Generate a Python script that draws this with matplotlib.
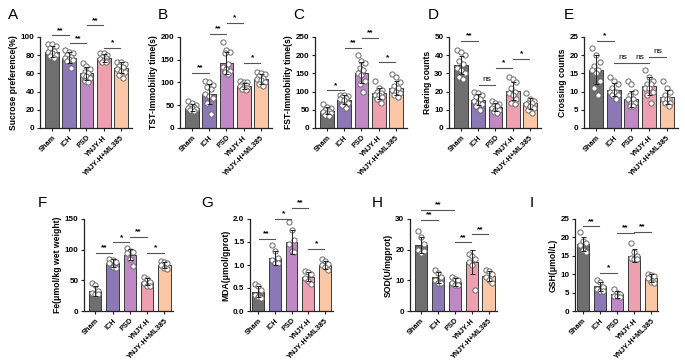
import matplotlib
matplotlib.use("Agg")
import matplotlib.pyplot as plt
import numpy as np

plt.rcParams['font.family'] = ['Liberation Sans', 'DejaVu Sans']

groups = ["Sham", "ICH", "PSD", "YNJY-H", "YNJY-H+ML385"]
colors = ["#6f6f6f", "#8c78b4", "#c089c6", "#ee9fb0", "#fbc7a6"]

# ---- Panel A: Sucrose preference
A_means = [84, 77, 60, 77, 66]
A_sd = [6, 6, 7, 4, 6]
A_pts = [[92, 92, 90, 88, 85, 83, 82, 80, 79, 77],
         [86, 84, 82, 80, 78, 77, 76, 75, 74, 66],
         [71, 68, 65, 62, 60, 58, 57, 55, 52, 50],
         [82, 82, 80, 78, 77, 76, 75, 74, 73, 72],
         [72, 72, 70, 68, 67, 65, 63, 62, 58, 55]]
A_sig = [(0, 1, 102, "**"), (1, 2, 93, "**"), (2, 3, 113, "**"), (3, 4, 88, "*")]

# ---- Panel B: TST immobility
B_means = [45, 75, 143, 92, 107]
B_sd = [7, 22, 24, 7, 11]
B_pts = [[60, 55, 50, 48, 46, 45, 43, 42, 40, 38],
         [104, 100, 95, 90, 85, 75, 70, 65, 55, 30],
         [188, 172, 168, 165, 140, 135, 130, 125, 122, 118],
         [104, 102, 100, 97, 94, 92, 90, 88, 86, 84],
         [122, 120, 118, 115, 110, 108, 105, 100, 96, 92]]
B_sig = [(0, 1, 121, "**"), (1, 2, 207, "**"), (2, 3, 231, "*"), (3, 4, 143, "*")]

# ---- Panel C: FST immobility
C_means = [48, 78, 152, 95, 110]
C_sd = [9, 12, 28, 16, 19]
C_pts = [[65, 58, 55, 50, 48, 45, 42, 40, 36, 33],
         [92, 90, 88, 85, 82, 80, 76, 70, 62, 55],
         [200, 185, 178, 165, 160, 150, 145, 130, 120, 100],
         [130, 110, 105, 100, 95, 92, 90, 85, 80, 68],
         [148, 140, 125, 115, 110, 105, 100, 95, 90, 85]]
C_sig = [(0, 1, 104, "*"), (1, 2, 220, "**"), (2, 3, 247, "**"), (3, 4, 181, "*")]

# ---- Panel D: Rearing counts
D_means = [34.5, 15.5, 11.5, 20.5, 13.5]
D_sd = [5, 3, 2.3, 5, 3]
D_pts = [[43, 42, 40, 37, 35, 33, 32, 30, 28, 27],
         [20, 19, 18, 17, 16, 15, 14, 13, 12, 10],
         [15, 14, 13, 12, 12, 11, 10, 10, 9, 8],
         [28, 27, 25, 22, 20, 19, 18, 16, 14, 13],
         [19, 16, 15, 14, 14, 13, 12, 11, 10, 8]]
D_sig = [(0, 1, 48, "**"), (1, 2, 23.6, "ns"), (2, 3, 33, "*"), (3, 4, 38, "*")]

# ---- Panel E: Crossing counts
E_means = [16, 10.5, 8, 11.5, 8.5]
E_sd = [4, 1.8, 2.3, 2.5, 2]
E_pts = [[22, 20, 18, 17, 16, 16, 15, 13, 11, 9],
         [14, 13, 12, 11, 10, 10, 10, 9, 9, 8],
         [13, 12, 10, 9, 8, 8, 7, 7, 6, 6],
         [16, 14, 13, 12, 12, 11, 11, 10, 9, 7],
         [13, 11, 10, 9, 8, 8, 8, 7, 7, 6]]
E_sig = [(0, 1, 24, "*"), (1, 2, 17.9, "ns"), (2, 3, 17.9, "ns"), (3, 4, 19.5, "ns")]

# ---- Panel F: Fe
F_means = [33, 78, 92, 48, 75]
F_sd = [8, 6, 9, 6, 5]
F_pts = [[46, 42, 32, 30, 28, 27],
         [85, 83, 80, 78, 72, 70],
         [102, 98, 97, 95, 85, 73],
         [56, 52, 48, 45, 40, 40],
         [82, 80, 78, 75, 70, 68]]
F_sig = [(0, 1, 94.6, "**"), (1, 2, 112, "*"), (2, 3, 121, "**"), (3, 4, 94.6, "*")]

# ---- Panel G: MDA
G_means = [0.42, 1.15, 1.5, 0.75, 1.0]
G_sd = [0.12, 0.15, 0.25, 0.1, 0.08]
G_pts = [[0.58, 0.55, 0.45, 0.35, 0.30, 0.28],
         [1.43, 1.30, 1.15, 1.10, 1.05, 1.05],
         [1.93, 1.75, 1.55, 1.45, 1.30, 1.28],
         [0.88, 0.85, 0.80, 0.72, 0.65, 0.58],
         [1.12, 1.08, 1.02, 1.00, 0.95, 0.90]]
G_sig = [(0, 1, 1.57, "**"), (1, 2, 2.0, "*"), (2, 3, 2.24, "**"), (3, 4, 1.35, "*")]

# ---- Panel H: SOD
H_means = [21.5, 11, 9.5, 16, 11.3]
H_sd = [2.5, 1.8, 1.2, 4, 1.6]
H_pts = [[26, 24, 22, 20, 19, 19.5],
         [13.5, 12.5, 11, 10, 9, 9],
         [11, 10.5, 10, 9, 8.5, 8.5],
         [18.5, 18, 17, 16, 15, 7],
         [13.5, 13, 12, 11, 10, 9]]
H_sig = [(0, 1, 29.7, "**"), (0, 2, 33, "**"), (2, 3, 22.4, "**"), (3, 4, 25, "**")]

# ---- Panel I: GSH
I_means = [18.2, 6.7, 4.5, 15, 9]
I_sd = [1.9, 1.3, 0.9, 1.8, 1.0]
I_pts = [[21.5, 19, 18.5, 18, 16.5, 16],
         [8.5, 8, 6.5, 6, 5.5, 5.5],
         [6, 5, 4.5, 4, 4, 3.8],
         [18.5, 16, 15, 14.5, 14, 14],
         [10, 9.8, 9.5, 9, 8, 7.5]]
I_sig = [(0, 1, 23, "**"), (1, 2, 10.3, "*"), (2, 3, 21.2, "**"), (3, 4, 21.5, "**")]

W, H = 685, 362
fig = plt.figure(figsize=(W / 100, H / 100), dpi=100)

panels = [
    ("A", A_means, A_sd, A_pts, A_sig, "Sucrose preference(%)", np.arange(0, 101, 20), None, (40, 132, 37, 128), (-0.7, 4.65), 0.8, (8, 15)),
    ("B", B_means, B_sd, B_pts, B_sig, "TST-Immobility time(s)", np.arange(0, 201, 50), None, (180, 272, 37, 128), (-0.7, 4.65), 0.8, (158, 15)),
    ("C", C_means, C_sd, C_pts, C_sig, "FST-Immobility time(s)", np.arange(0, 251, 50), None, (315, 407, 37, 128), (-0.7, 4.65), 0.8, (293, 15)),
    ("D", D_means, D_sd, D_pts, D_sig, "Rearing counts", np.arange(0, 51, 10), None, (449, 541, 37, 128), (-0.7, 4.65), 0.8, (428, 15)),
    ("E", E_means, E_sd, E_pts, E_sig, "Crossing counts", np.arange(0, 26, 5), None, (584, 678, 37, 128), (-0.7, 4.65), 0.8, (564, 15)),
    ("F", F_means, F_sd, F_pts, F_sig, "Fe(μmol/kg wet weight)", np.arange(0, 151, 50), None, (84, 173, 219, 311), (-0.65, 4.5), 0.72, (38, 203)),
    ("G", G_means, G_sd, G_pts, G_sig, "MDA(μmol/gprot)", np.arange(0, 2.01, 0.5), "%.1f", (250, 333, 219, 311), (-0.5, 4.5), 0.72, (201, 203)),
    ("H", H_means, H_sd, H_pts, H_sig, "SOD(U/mgprot)", np.arange(0, 31, 10), None, (410, 497, 219, 311), (-0.65, 4.5), 0.72, (372, 203)),
    ("I", I_means, I_sd, I_pts, I_sig, "GSH(μmol/L)", np.arange(0, 26, 5), None, (575, 658, 219, 311), (-0.45, 4.4), 0.72, (530, 203)),
]

offs10 = [-0.22, 0.0, 0.22, -0.11, 0.11, -0.22, 0.0, 0.22, -0.11, 0.11]
offs6 = [-0.18, 0.0, 0.18, -0.18, 0.0, 0.18]

for (lab, means, sd, pts, sig, ylabel, yt, fmt, box, xl, bw, lpos) in panels:
    x0, x1, y0, y1 = box
    ax = fig.add_axes([x0 / W, 1 - y1 / H, (x1 - x0) / W, (y1 - y0) / H])
    x = np.arange(len(groups))
    ax.bar(x, means, width=bw, color=colors, edgecolor="#3a3a3a", linewidth=0.7, zorder=1)
    for i in range(len(groups)):
        p = pts[i]
        offs = offs10 if len(p) == 10 else offs6
        ax.scatter(np.full(len(p), i) + np.array(offs[:len(p)]), p, s=14, facecolors="white",
                   edgecolors="#6a6a6a", linewidths=0.7, zorder=3)
    ax.errorbar(x, means, yerr=sd, fmt="none", ecolor="#222222", elinewidth=0.7, capsize=1.8,
                capthick=0.7, zorder=4)
    ymax = yt[-1]
    ax.set_ylim(0, ymax)
    ax.set_xlim(*xl)
    ax.set_yticks(yt)
    if fmt:
        ax.set_yticklabels([fmt % v for v in yt])
    ax.set_xticks(x)
    ax.set_xticklabels(groups, rotation=45, ha="right", rotation_mode="anchor")
    for t in ax.get_xticklabels():
        t.set_fontweight("bold")
        t.set_fontsize(5.3)
    for t in ax.get_yticklabels():
        t.set_fontweight("bold")
        t.set_fontsize(5.8)
    ax.tick_params(axis="both", length=2.5, width=0.8, pad=1.5, color="#222222")
    ax.tick_params(axis="x", pad=2)
    ax.set_ylabel(ylabel, fontsize=6.2, fontweight="bold", labelpad=2)
    for s in ["top", "right"]:
        ax.spines[s].set_visible(False)
    for s in ["left", "bottom"]:
        ax.spines[s].set_linewidth(0.9)
        ax.spines[s].set_color("#222222")
    for (i, j, yv, txt) in sig:
        ax.plot([i + 0.02, j - 0.02], [yv, yv], color="#555555", lw=0.8, clip_on=False, zorder=5)
        dy = ymax * (0.015 if txt != "ns" else 0.02)
        ax.text((i + j) / 2, yv + dy, txt, ha="center", va="bottom", fontsize=6,
                fontweight="bold" if txt != "ns" else "normal", clip_on=False)
    fig.text(lpos[0] / W, 1 - lpos[1] / H, lab, fontsize=11, ha="left", va="center")

fig.savefig("out.png", dpi=100)
